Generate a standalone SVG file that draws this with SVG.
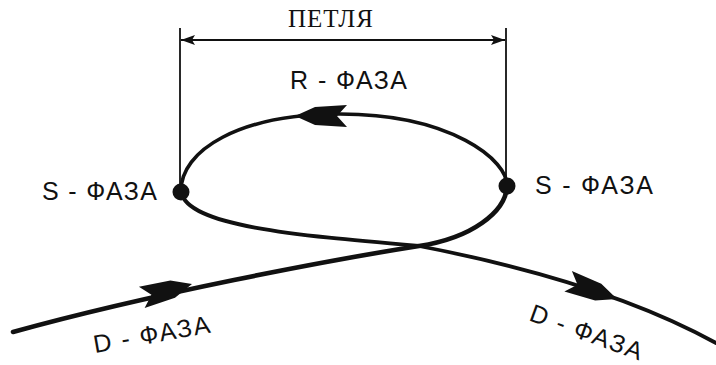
<svg xmlns="http://www.w3.org/2000/svg" width="716" height="365" viewBox="0 0 716 365">
<style>
.t{font-family:"Liberation Sans","DejaVu Sans",sans-serif;font-size:25px;fill:#111}
.ts{font-family:"Liberation Serif","DejaVu Serif",serif;font-size:25px;fill:#111}
.curve{fill:none;stroke:#111;stroke-width:4;stroke-linecap:round}
.dim{fill:none;stroke:#111;stroke-width:1.8}
</style>
<defs>
<polygon id="fl" points="0,0 -20,-9 -52,-11 -42,0 -52,11 -20,9" fill="#111"/>
<marker id="da" viewBox="0 0 14 10" refX="14" refY="5" markerWidth="14" markerHeight="10" markerUnits="userSpaceOnUse" orient="auto-start-reverse">
<path d="M0,0 L14,5 L0,10 L3,5 Z" fill="#111"/>
</marker>
</defs>
<rect width="716" height="365" fill="#fff"/>
<g id="connectors">
<line class="dim" x1="180" y1="28" x2="180" y2="192"/>
<line class="dim" x1="506" y1="28" x2="506" y2="187"/>
<line class="dim" x1="181" y1="40" x2="505" y2="40" marker-start="url(#da)" marker-end="url(#da)"/>
<path class="curve" style="stroke-width:4.6" d="M13,332 C150,294 330,260 419,246 C472,238 505,212 507,187"/>
<path class="curve" style="stroke-width:3.6" d="M507,187 C509,160 450,114 340,114 C240,114 180,150 181,192"/>
<path class="curve" style="stroke-width:3.8" d="M181,192 C188,226 292,235 419,246 C502,262 620,290 716,343"/>
<use href="#fl" transform="translate(192,284) rotate(-15)"/>
<use href="#fl" transform="translate(295,116) rotate(180)"/>
<use href="#fl" transform="translate(617,299) rotate(20)"/>
</g>
<g id="node-s-left">
<circle cx="181" cy="192" r="8.5" fill="#111"/>
<text class="t" x="42" y="200" textLength="115">S - ФАЗА</text>
</g>
<g id="node-s-right">
<circle cx="507" cy="186" r="8.5" fill="#111"/>
<text class="t" x="535" y="194" textLength="118">S - ФАЗА</text>
</g>
<g id="label-loop">
<text class="ts" x="288" y="27" textLength="85">ПЕТЛЯ</text>
</g>
<g id="label-r">
<text class="t" x="290" y="89" textLength="117">R - ФАЗА</text>
</g>
<g id="label-d-left">
<text class="t" transform="translate(95,353) rotate(-10)" textLength="118">D - ФАЗА</text>
</g>
<g id="label-d-right">
<text class="t" transform="translate(528,320) rotate(20)" textLength="118">D - ФАЗА</text>
</g>
</svg>
